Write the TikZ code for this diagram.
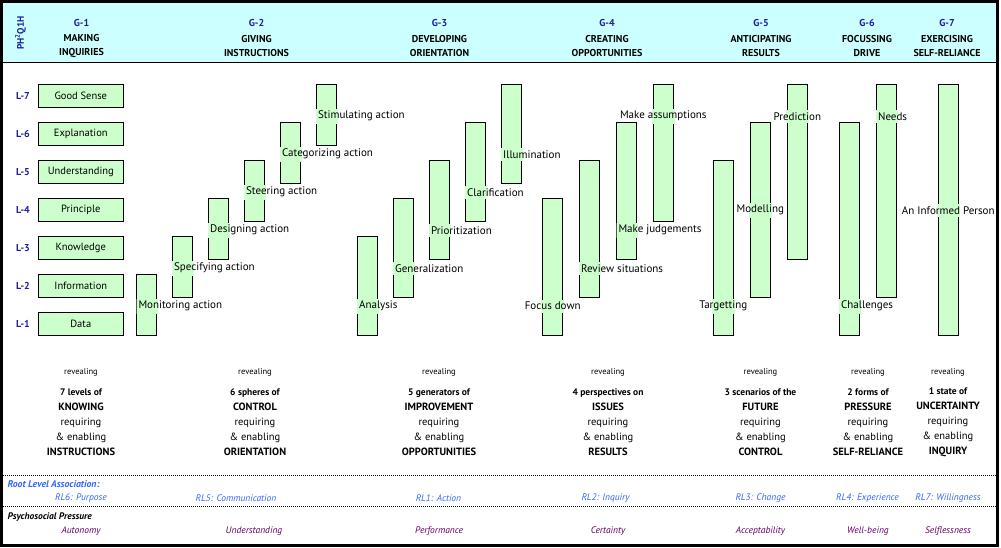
\documentclass[tikz,border=0pt]{standalone}
\usepackage{fontspec}
\setmainfont{PT Sans}
\usetikzlibrary{positioning}
\definecolor{hdrcyan}{HTML}{CCFFFF}
\definecolor{bargreen}{HTML}{CCFFCC}
\definecolor{gblue}{RGB}{30,30,160}
\definecolor{rlblue}{HTML}{3366FF}
\definecolor{pppurple}{HTML}{660066}
\newcommand{\sz}[2]{\fontsize{#1}{#2}\selectfont}

\begin{document}
\begin{tikzpicture}[x=1pt, y=-1pt,
     lvlbox/.style = {rectangle, draw, line width=0.8pt, fill=bargreen, minimum width=85pt, minimum height=23.4pt, inner sep=0pt, font=\sz{10.5}{12}},
     lvltag/.style = {font=\bfseries\sz{10}{12}, text=gblue},
        bar/.style = {rectangle, draw, line width=0.8pt, fill=bargreen, minimum width=20pt, inner sep=0pt},
       rows/.style = {minimum height={#1*38pt-14.6pt}},
        act/.style = {font=\sz{11}{13}, inner sep=2pt, yshift=-1.2pt,
                      path picture={\fill[bargreen] ([shift={(-0.9pt,-0.9pt)}]#1.south west) rectangle ([shift={(0.9pt,0.9pt)}]#1.north east);}},
       gtag/.style = {font=\bfseries\sz{10}{12}, text=gblue},
     gtitle/.style = {font=\bfseries\sz{10}{13.4}, align=center},
        rev/.style = {font=\sz{8.5}{10}},
        blk/.style = {font=\sz{10.5}{15}, align=center},
      rlrow/.style = {font=\itshape\sz{9.5}{10}, text=rlblue},
      pprow/.style = {font=\itshape\sz{9.5}{10}, text=pppurple}
                        ]
\useasboundingbox (0,0) rectangle (1001,547);
% header band and frame
\fill[hdrcyan] (1.5,1.5) rectangle (997,62.5);
\draw[line width=1.3pt] (3,62.5) -- (996,62.5);
\node[rotate=90, font=\bfseries\sz{9.5}{10}, text=gblue] (brand) at (20.5,33) {PH\textsuperscript{2}Q1H};
\foreach \i/\x/\ta/\tb in {1/81.5/MAKING/INQUIRIES, 2/256.5/GIVING/INSTRUCTIONS, 3/439.5/DEVELOPING/ORIENTATION,
    4/607/CREATING/OPPORTUNITIES, 5/761/ANTICIPATING/RESULTS, 6/867/FOCUSSING/DRIVE, 7/947/EXERCISING/SELF-RELIANCE}{
  \node[gtag] (g\i) at (\x,23.3) {G-\i};
  \node[gtitle] (t\i) at (\x,46) {\ta\\\tb};
}
% levels
\foreach \k/\t in {1/Data, 2/Information, 3/Knowledge, 4/Principle, 5/Understanding, 6/Explanation, 7/Good Sense}{
  \node[lvlbox] (lv\k) at (80.8,{362-38*\k}) {\t};
  \node[lvltag] (tag\k) at (23,{362-38*\k}) {L-\k};
}
% G-2
\node[bar, rows=2] (mon)   at (146.7,305) {};
\node[bar, rows=2] (spec)  at (182.3,267) {};
\node[bar, rows=2] (des)   at (218.3,229) {};
\node[bar, rows=2] (steer) at (254.3,191) {};
\node[bar, rows=2] (cat)   at (290.3,153) {};
\node[bar, rows=2] (stim)  at (326.3,115) {};
\node[act=mon, anchor=west]   (monL)   at (mon.west)   {Monitoring action};
\node[act=spec, anchor=west]  (specL)  at (spec.west)  {Specifying action};
\node[act=des, anchor=west]   (desL)   at (des.west)   {Designing action};
\node[act=steer, anchor=west] (steerL) at (steer.west) {Steering action};
\node[act=cat, anchor=west]   (catL)   at (cat.west)   {Categorizing action};
\node[act=stim, anchor=west]  (stimL)  at (stim.west)  {Stimulating action};
% G-3
\node[bar, rows=3] (ana)  at (367.3,286) {};
\node[bar, rows=3] (gen)  at (403.3,248) {};
\node[bar, rows=3] (prio) at (439.3,210) {};
\node[bar, rows=3] (clar) at (475.3,172) {};
\node[bar, rows=3] (illu) at (511.3,134) {};
\node[act=ana, anchor=west]  (anaL)  at (ana.west |- 0,305)  {Analysis};
\node[act=gen, anchor=west]  (genL)  at (gen.west |- 0,267)  {Generalization};
\node[act=prio, anchor=west] (prioL) at (prio.west |- 0,229) {Prioritization};
\node[act=clar, anchor=west] (clarL) at (clar.west |- 0,191) {Clarification};
\node[act=illu, anchor=west] (illuL) at (illu.west |- 0,153) {Illumination};
% G-4
\node[bar, rows=4] (focus)  at (552.7,267) {};
\node[bar, rows=4] (review) at (589.3,229) {};
\node[bar, rows=4] (judge)  at (626.7,191) {};
\node[bar, rows=4] (assume) at (663.3,153) {};
\node[act=focus]               (focusL)  at (focus |- 0,305)       {Focus down};
\node[act=review, anchor=west] (reviewL) at (review.west |- 0,267) {Review situations};
\node[act=judge, anchor=west]  (judgeL)  at (judge.west |- 0,229)  {Make judgements};
\node[act=assume]              (assumeL) at (assume |- 0,115)      {Make assumptions};
% G-5
\node[bar, rows=5] (target)  at (723.3,248) {};
\node[bar, rows=5] (model)   at (760.3,210) {};
\node[bar, rows=5] (predict) at (797.3,172) {};
\node[act=target]  (targetL)  at (target |- 0,305)  {Targetting};
\node[act=model]   (modelL)   at (model |- 0,209)   {Modelling};
\node[act=predict] (predictL) at (predict |- 0,115) {Prediction};
% G-6
\node[bar, rows=6] (chall) at (849.3,229) {};
\node[bar, rows=6] (needs) at (886.3,191) {};
\node[act=chall, anchor=west] (challL) at (chall.west |- 0,305) {Challenges};
\node[act=needs, anchor=west] (needsL) at (needs.west |- 0,115) {Needs};
% G-7
\node[bar, rows=7] (inform) at (948.3,210) {};
\node[act=inform] (informL) at (inform |- 0,209) {An Informed Person};
% summaries
\foreach \i/\x/\tc/\tn/\tf in {1/81/7 levels of/KNOWING/INSTRUCTIONS, 2/255/6 spheres of/CONTROL/ORIENTATION,
    3/439/5 generators of/IMPROVEMENT/OPPORTUNITIES, 4/608/4 perspectives on/ISSUES/RESULTS,
    5/760.5/3 scenarios of the/FUTURE/CONTROL, 6/868/2 forms of/PRESSURE/SELF-RELIANCE, 7/948/1 state of/UNCERTAINTY/INQUIRY}{
  \node[rev] (rev\i) at (\x,372.7) {revealing};
  \node[blk] (blk\i) at (\x,422.5) {{\bfseries\sz{9.5}{15}\tc}\\{\bfseries\tn}\\requiring\\\& enabling\\{\bfseries\tf}};
}
% association rows
\draw[line width=1pt, dash pattern=on 1pt off 1pt] (3,475) -- (996,475);
\draw[line width=1pt, dash pattern=on 1pt off 1pt] (3,506) -- (996,506);
\node[anchor=west, font=\bfseries\itshape\sz{9.8}{10}, text=rlblue] (rlhead) at (4,484) {Root Level Association:};
\node[anchor=west, font=\bfseries\itshape\sz{9.5}{10}] (pphead) at (4,516.7) {Psychosocial Pressure};
\foreach \i/\x/\r in {1/81/RL6: Purpose, 2/236/RL5: Communication, 3/438.5/RL1: Action,
    4/605.5/RL2: Inquiry, 5/760.5/RL3: Change, 6/867.5/RL4: Experience, 7/948/RL7: Willingness}{
  \node[rlrow] (rl\i) at (\x,498.3) {\r};
}
\foreach \i/\x/\p in {1/81/Autonomy, 2/254/Understanding, 3/439/Performance,
    4/608/Certainty, 5/760.5/Acceptability, 6/868/Well-being, 7/948/Selflessness}{
  \node[pprow] (pp\i) at (\x,530.7) {\p};
}
\draw[line width=3pt] (1.5,1.5) rectangle (997,545.3);
\end{tikzpicture}
\end{document}
